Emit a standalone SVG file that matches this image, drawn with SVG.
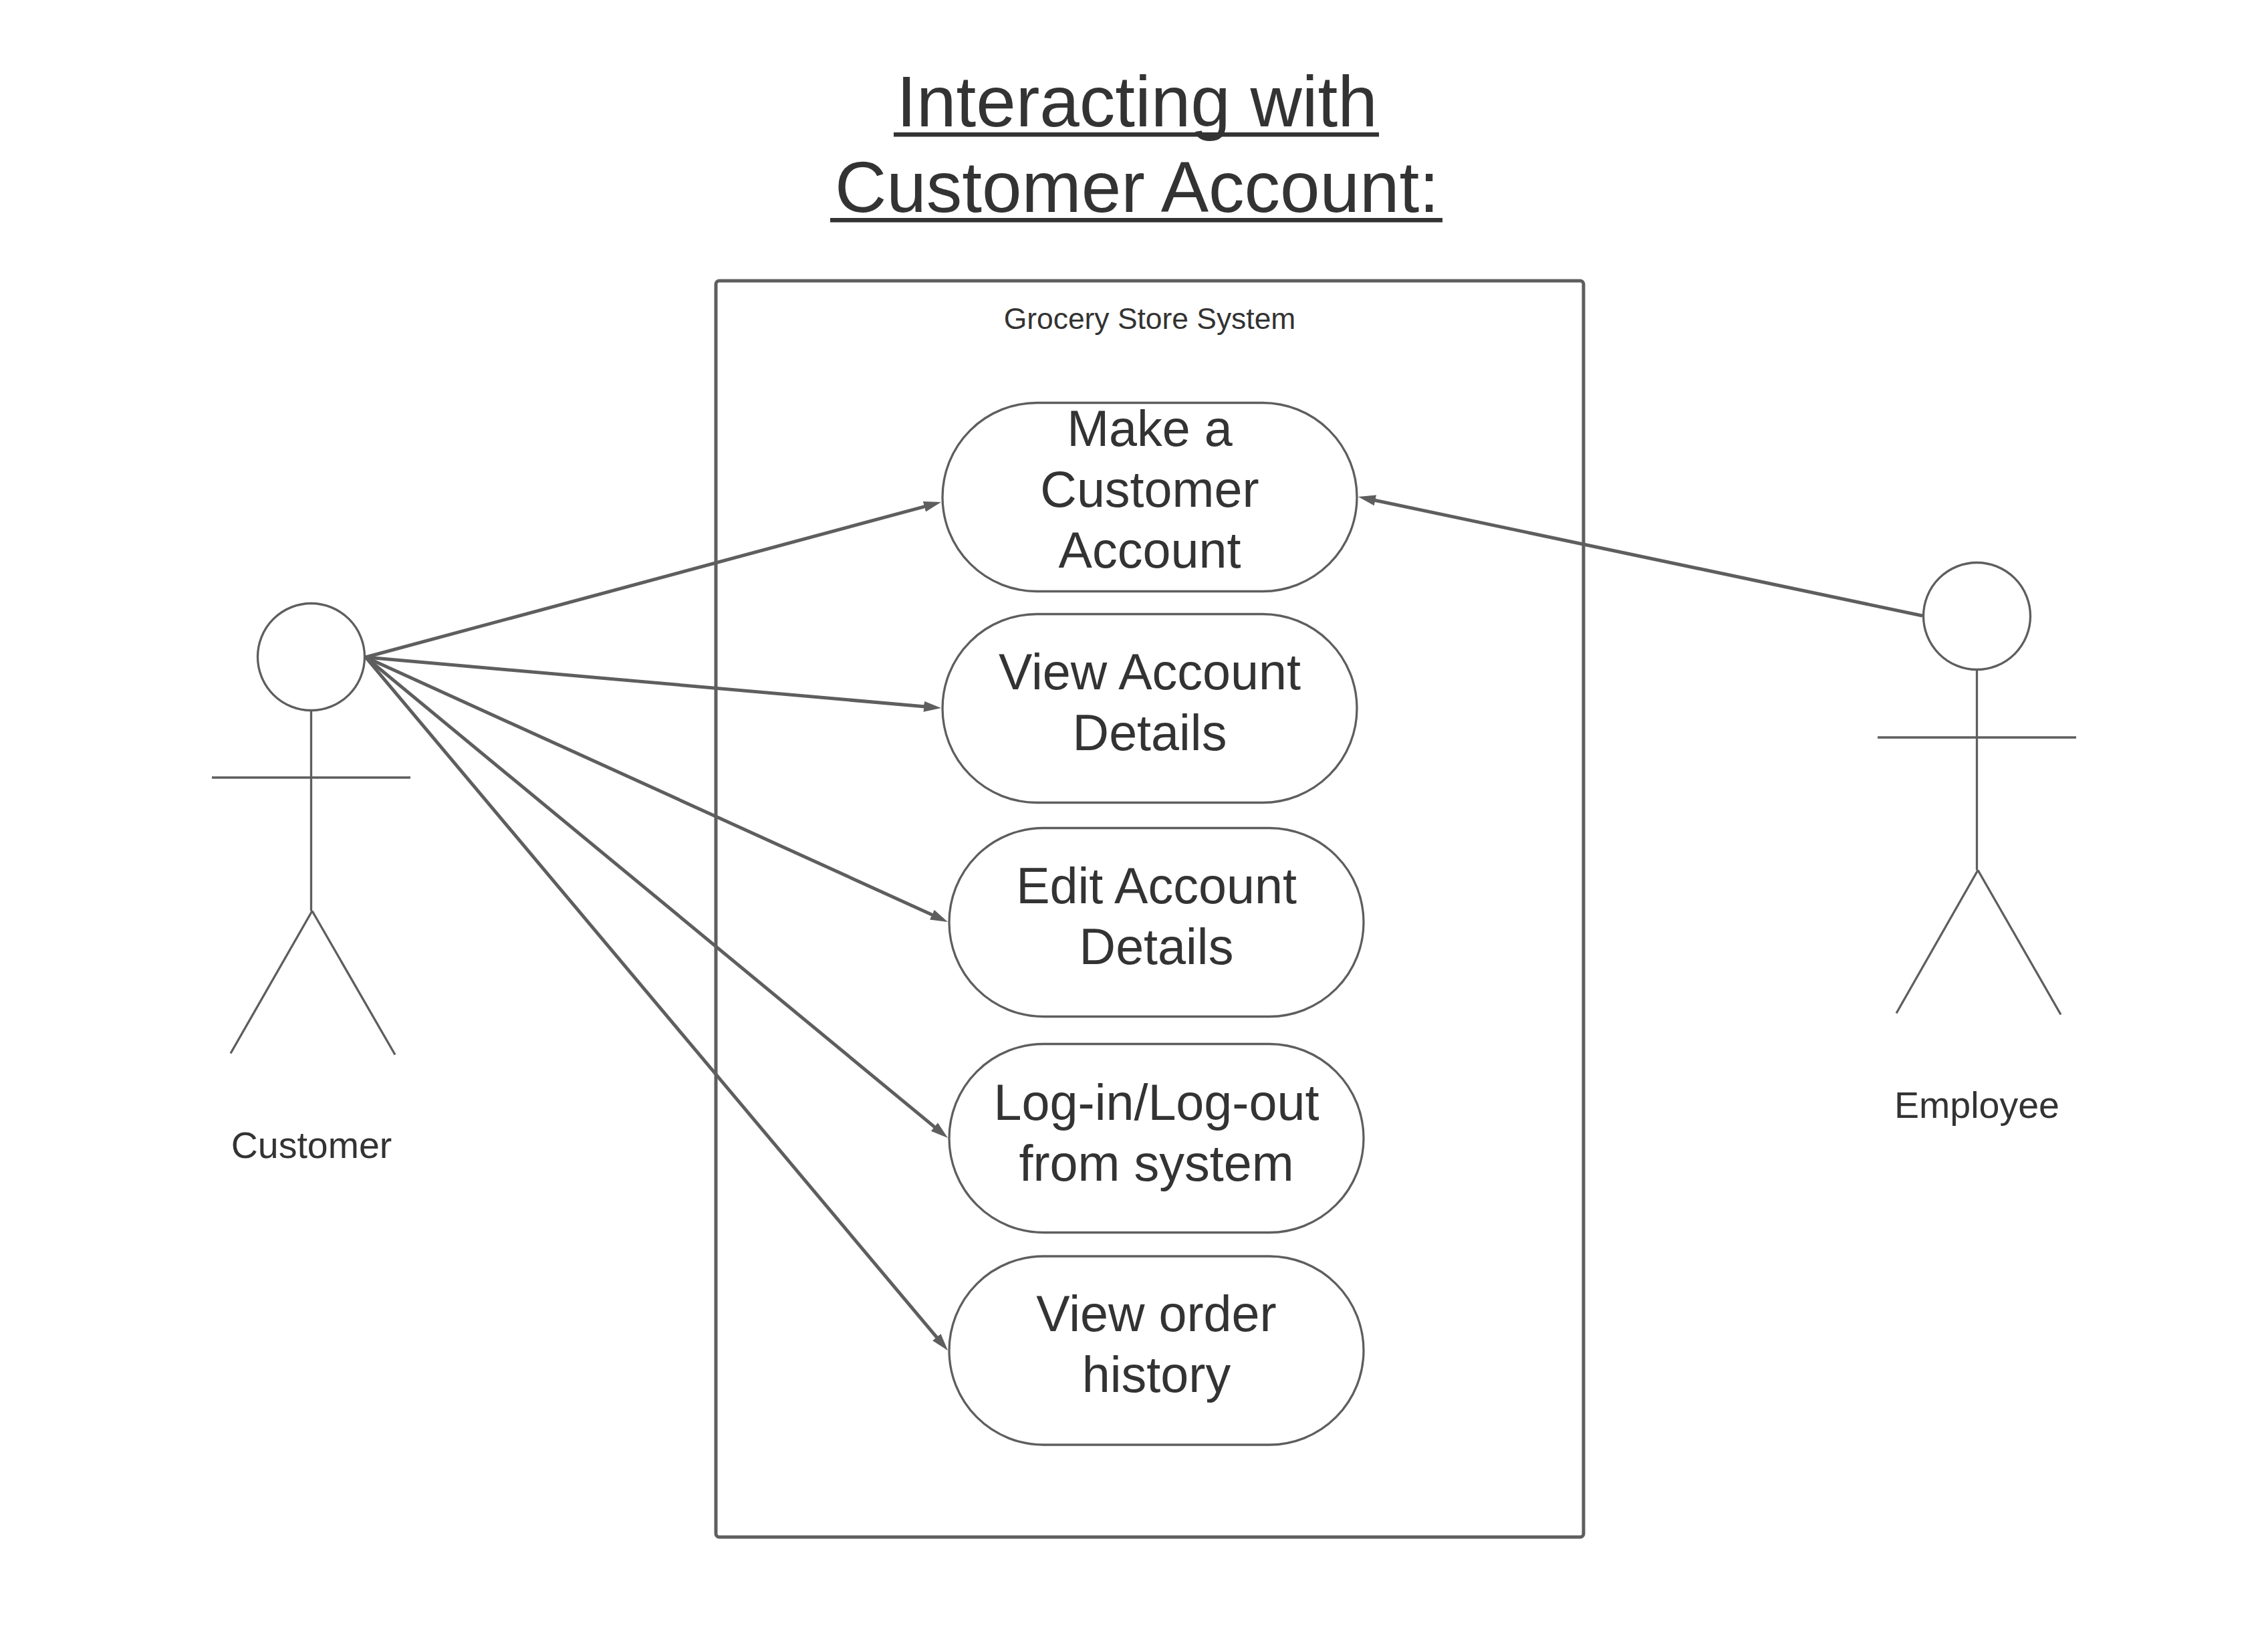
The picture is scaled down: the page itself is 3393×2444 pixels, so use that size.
<svg xmlns="http://www.w3.org/2000/svg" width="3393" height="2444" viewBox="0 0 3393 2444">
<style>
text{font-family:"Liberation Sans",Arial,sans-serif;fill:#333333;text-anchor:middle}
.title{font-size:107px}
.uc{font-size:75.5px}
.lbl{font-size:55.5px}
.sys{font-size:44.4px}
.s{fill:none;stroke:#5e5e5e;stroke-width:3.3}
.n{fill:#ffffff;stroke:#5e5e5e;stroke-width:3.3}
.c{fill:none;stroke:#5e5e5e;stroke-width:5;marker-end:url(#a)}
</style>
<defs><marker id="a" markerUnits="userSpaceOnUse" markerWidth="28" markerHeight="18" refX="14" refY="8" orient="auto"><path d="M0 0L26 8L0 16Z" fill="#5e5e5e"/></marker></defs>
<rect width="3393" height="2444" fill="#ffffff"/>
<g id="title">
<text class="title" x="1701" y="189">Interacting with</text>
<text class="title" x="1701" y="317">Customer Account:</text>
<rect x="1337" y="198" width="726" height="6.5" fill="#333333"/>
<rect x="1242" y="326" width="916" height="6.5" fill="#333333"/>
</g>
<g id="system">
<rect x="1071" y="420" width="1298" height="1879" rx="5" fill="none" stroke="#5e5e5e" stroke-width="5"/>
<text class="sys" x="1720" y="492">Grocery Store System</text>
</g>
<g id="uc1"><rect class="n" x="1410" y="602.5" width="620" height="282" rx="141" ry="141"/>
<text class="uc"><tspan x="1720" y="667">Make a</tspan><tspan x="1720" y="758">Customer</tspan><tspan x="1720" y="849">Account</tspan></text></g>
<g id="uc2"><rect class="n" x="1410" y="918.5" width="620" height="282" rx="141" ry="141"/>
<text class="uc"><tspan x="1720" y="1031">View Account</tspan><tspan x="1720" y="1122">Details</tspan></text></g>
<g id="uc3"><rect class="n" x="1420" y="1238.5" width="620" height="282" rx="141" ry="141"/>
<text class="uc"><tspan x="1730" y="1351">Edit Account</tspan><tspan x="1730" y="1442">Details</tspan></text></g>
<g id="uc4"><rect class="n" x="1420" y="1561.5" width="620" height="282" rx="141" ry="141"/>
<text class="uc"><tspan x="1730" y="1675">Log-in/Log-out</tspan><tspan x="1730" y="1766">from system</tspan></text></g>
<g id="uc5"><rect class="n" x="1420" y="1879" width="620" height="282" rx="141" ry="141"/>
<text class="uc"><tspan x="1730" y="1991">View order</tspan><tspan x="1730" y="2082">history</tspan></text></g>
<g id="customer">
<circle class="s" cx="465.5" cy="982.5" r="80"/>
<path class="s" d="M465.5 1062.5V1362.5M317 1163H614M467 1362.5L345 1575.5M467 1362.5L591 1577.5"/>
<text class="lbl" x="466" y="1732">Customer</text>
</g>
<g id="employee">
<circle class="s" cx="2957.5" cy="921.5" r="80"/>
<path class="s" d="M2957.5 1001.5V1301.5M2809 1103H3106M2959 1301.5L2837 1515.5M2959 1301.5L3083 1517.5"/>
<text class="lbl" x="2957.5" y="1672">Employee</text>
</g>
<g id="connectors">
<line class="c" x1="547" y1="983" x2="1396.4" y2="754.1"/>
<line class="c" x1="547" y1="983" x2="1396" y2="1058"/>
<line class="c" x1="547" y1="983" x2="1407.1" y2="1374"/>
<line class="c" x1="547" y1="983" x2="1408.7" y2="1694.4"/>
<line class="c" x1="547" y1="983" x2="1410.3" y2="2010.8"/>
<line class="c" x1="2876" y1="921" x2="2043.7" y2="745.5"/>
</g>
</svg>
